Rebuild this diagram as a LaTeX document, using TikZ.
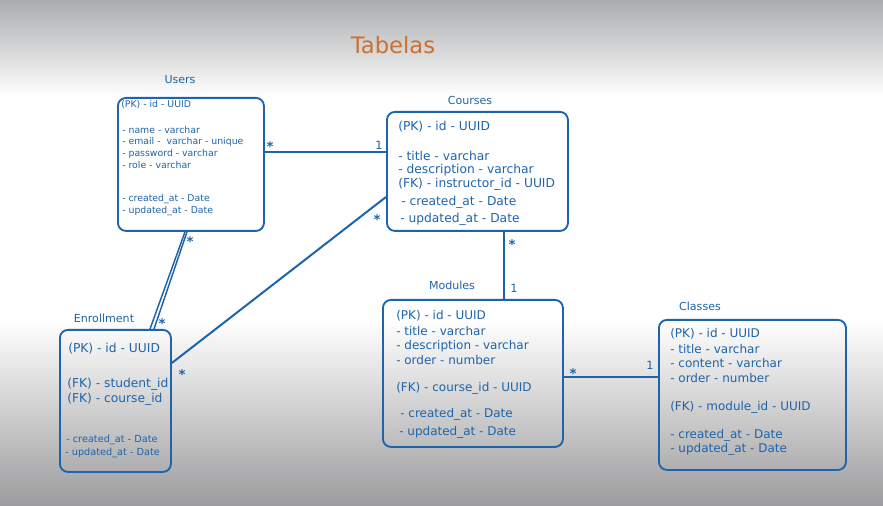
\documentclass[tikz,border=0pt]{standalone}
\usepackage{fontspec}
\setmainfont{DejaVu Sans}
\definecolor{ink}{RGB}{30,100,170}
\definecolor{title}{RGB}{204,112,48}
\definecolor{topgrey}{RGB}{170,171,173}
\definecolor{botgrey}{RGB}{156,156,158}
\begin{document}
\begin{tikzpicture}[x=0.75pt,y=-0.75pt,
  tbl/.style={draw=ink, line width=1.4pt, rounded corners=6pt, inner sep=0pt, anchor=north west},
  ttl/.style={text=ink, inner sep=0pt, font=\fontsize{8.3}{9}\selectfont},
  fs/.style={text=ink, inner sep=0pt, anchor=west, font=\fontsize{7}{8}\selectfont},
  fd/.style={text=ink, inner sep=0pt, anchor=west, font=\fontsize{7.3}{8}\selectfont},
  fb/.style={text=ink, inner sep=0pt, anchor=west, font=\fontsize{9.2}{10}\selectfont},
  fm/.style={text=ink, inner sep=0pt, anchor=west, font=\fontsize{9}{10}\selectfont},
  rel/.style={draw=ink, line width=1.5pt},
  card/.style={text=ink, inner sep=0pt, font=\fontsize{8.5}{9}\selectfont},
  star/.style={text=ink, inner sep=0pt, font=\fontsize{10}{10}\selectfont\bfseries}]
\useasboundingbox (0,0) rectangle (883,506);
% background
\fill[top color=topgrey, bottom color=white] (0,0) rectangle (883,96);
\fill[white] (0,95) rectangle (883,321);
\fill[top color=white, bottom color=botgrey] (0,320) rectangle (883,506);
% title
\node[text=title, inner sep=0pt, font=\fontsize{17}{19}\selectfont] (tabelas) at (393,45) {Tabelas};
% boxes
\node[tbl, minimum width=146*0.75pt, minimum height=133*0.75pt] (users) at (117,97) {};
\node[tbl, minimum width=181*0.75pt, minimum height=119*0.75pt] (courses) at (386,111) {};
\node[tbl, minimum width=111*0.75pt, minimum height=142*0.75pt] (enroll) at (59,329) {};
\node[tbl, minimum width=180*0.75pt, minimum height=147*0.75pt] (modules) at (382,299) {};
\node[tbl, minimum width=187*0.75pt, minimum height=150*0.75pt] (classes) at (658,319) {};
% titles
\node[ttl] (tusers) at (180,80) {Users};
\node[ttl] (tcourses) at (470,100) {Courses};
\node[ttl] (tenroll) at (104,318) {Enrollment};
\node[ttl] (tmodules) at (452,285) {Modules};
\node[ttl] (tclasses) at (700,306) {Classes};
% Users fields
\node[fs] (u1) at (121,105) {(PK) - id - UUID};
\node[fs] (u2) at (122,130) {- name - varchar};
\node[fs] (u3) at (122,142) {- email - \ varchar - unique};
\node[fs] (u4) at (122,154) {- password - varchar};
\node[fs] (u5) at (122,165) {- role - varchar};
\node[fs] (u6) at (122,199) {- created\_at - Date};
\node[fs] (u7) at (122,211) {- updated\_at - Date};
% Courses fields
\node[fb] (c1) at (398,127) {(PK) - id - UUID};
\node[fb] (c2) at (398,156) {- title - varchar};
\node[fb] (c3) at (398,170) {- description - varchar};
\node[fb] (c4) at (398,184) {(FK) - instructor\_id - UUID};
\node[fb] (c5) at (401,202) {- created\_at - Date};
\node[fb] (c6) at (400,219) {- updated\_at - Date};
% Enrollment fields
\node[fb] (e1) at (68,349) {(PK) - id - UUID};
\node[fb] (e2) at (67,384) {(FK) - student\_id};
\node[fb] (e3) at (67,399) {(FK) - course\_id};
\node[fd] (e4) at (66,440) {- created\_at - Date};
\node[fd] (e5) at (65,453) {- updated\_at - Date};
% Modules fields
\node[fm] (m1) at (396,316) {(PK) - id - UUID};
\node[fm] (m2) at (396,331) {- title - varchar};
\node[fm] (m3) at (396,346) {- description - varchar};
\node[fm] (m4) at (396,360) {- order - number};
\node[fm] (m5) at (396,388) {(FK) - course\_id - UUID};
\node[fm] (m6) at (400,414) {- created\_at - Date};
\node[fm] (m7) at (399,432) {- updated\_at - Date};
% Classes fields
\node[fm] (k1) at (670,334) {(PK) - id - UUID};
\node[fm] (k2) at (670,349) {- title - varchar};
\node[fm] (k3) at (670,363) {- content - varchar};
\node[fm] (k4) at (670,378) {- order - number};
\node[fm] (k5) at (670,407) {(FK) - module\_id - UUID};
\node[fm] (k6) at (670,435) {- created\_at - Date};
\node[fm] (k7) at (670,449) {- updated\_at - Date};
% relations
\draw[rel] (users.east |- 0,152) -- (courses.west |- 0,152);
\draw[rel, line width=1.1pt] (users.south -| 185,0) -- (enroll.north -| 150,0);
\draw[rel, line width=1.1pt] (users.south -| 187,0) -- (enroll.north -| 154,0);
\draw[rel] (courses.west |- 0,197) -- (enroll.east |- 0,363);
\draw[rel] (courses.south -| 504,0) -- (modules.north -| 504,0);
\draw[rel] (modules.east |- 0,377) -- (classes.west |- 0,377);
% cardinalities
\node[star] (s1) at (270,147) {*};
\node[card] (o1) at (379,145) {1};
\node[star] (s2) at (190,242) {*};
\node[star] (s3) at (162,324) {*};
\node[star] (s4) at (377,220) {*};
\node[star] (s5) at (182,375) {*};
\node[star] (s6) at (512,245) {*};
\node[card] (o2) at (514,288) {1};
\node[star] (s7) at (573,374) {*};
\node[card] (o3) at (650,365) {1};
\end{tikzpicture}
\end{document}
